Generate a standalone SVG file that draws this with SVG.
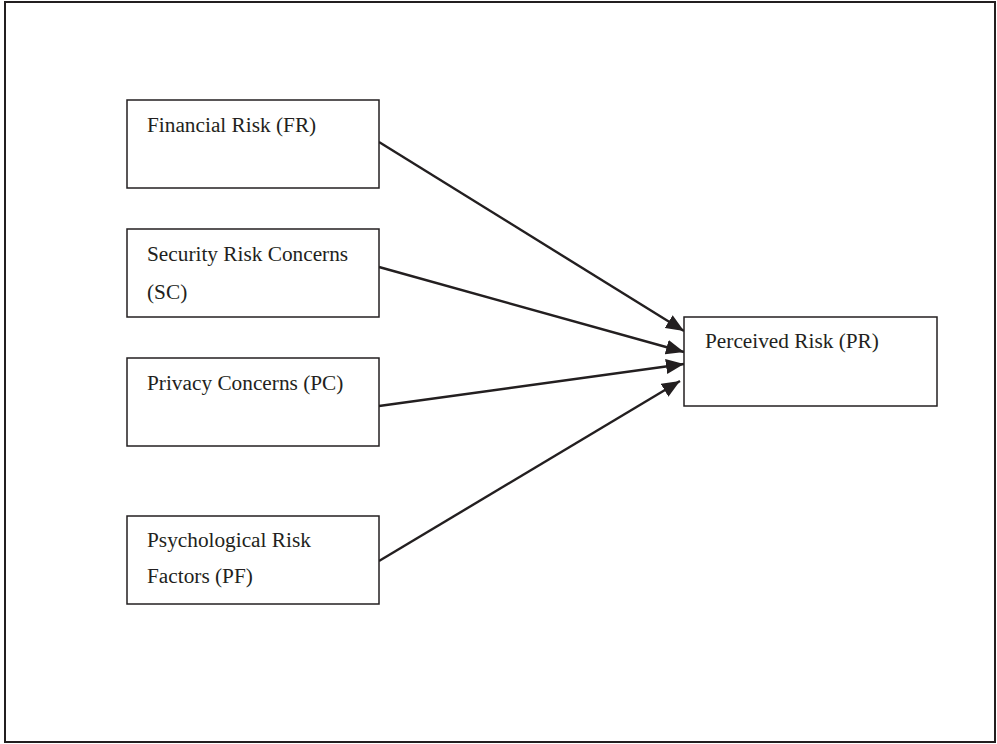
<svg xmlns="http://www.w3.org/2000/svg" width="997" height="744" viewBox="0 0 997 744">
  <style>
    .frame { fill: #ffffff; stroke: #231f20; stroke-width: 2; }
    .box { fill: #ffffff; stroke: #231f20; stroke-width: 1.5; }
    .label { font-family: "Liberation Serif", "Times New Roman", serif; font-size: 21.3px; fill: #231f20; }
    .edge { fill: none; stroke: #231f20; stroke-width: 2.4; marker-end: url(#head); }
  </style>
  <defs>
    <marker id="head" markerUnits="userSpaceOnUse" markerWidth="19" markerHeight="16" refX="18" refY="8" orient="auto">
      <path d="M0,0.5 L18,8 L0,15.5 Z" fill="#231f20"/>
    </marker>
  </defs>

  <rect class="frame" x="5" y="2" width="990" height="740"/>

  <g id="connectors">
    <line class="edge" x1="379" y1="142" x2="684" y2="331"/>
    <line class="edge" x1="379" y1="267" x2="684" y2="352"/>
    <line class="edge" x1="379" y1="406" x2="684" y2="364"/>
    <line class="edge" x1="379" y1="561" x2="680" y2="381"/>
  </g>

  <g id="FR">
    <rect class="box" x="127" y="100" width="252" height="88"/>
    <text class="label" x="147" y="132">Financial Risk (FR)</text>
  </g>

  <g id="SC">
    <rect class="box" x="127" y="229" width="252" height="88"/>
    <text class="label" x="147" y="261">Security Risk Concerns</text>
    <text class="label" x="147" y="299">(SC)</text>
  </g>

  <g id="PC">
    <rect class="box" x="127" y="358" width="252" height="88"/>
    <text class="label" x="147" y="390">Privacy Concerns (PC)</text>
  </g>

  <g id="PF">
    <rect class="box" x="127" y="516" width="252" height="88"/>
    <text class="label" x="147" y="547">Psychological Risk</text>
    <text class="label" x="147" y="583">Factors (PF)</text>
  </g>

  <g id="PR">
    <rect class="box" x="684" y="317" width="253" height="89"/>
    <text class="label" x="705" y="348">Perceived Risk (PR)</text>
  </g>
</svg>
